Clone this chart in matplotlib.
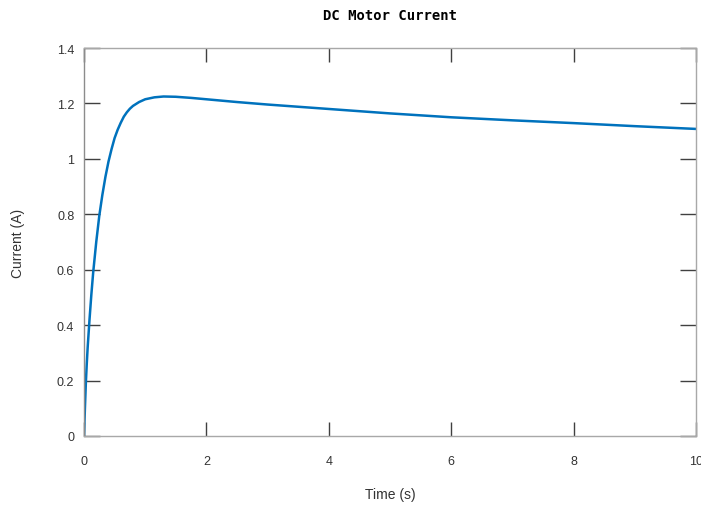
import matplotlib
matplotlib.use("Agg")
import matplotlib.pyplot as plt

# Data
time_s = [0, 0.015, 0.03, 0.045, 0.06, 0.09, 0.12, 0.15, 0.2, 0.25, 0.3, 0.35, 0.4, 0.45, 0.5,
          0.55, 0.6, 0.65, 0.7, 0.75, 0.8, 0.9, 1.0, 1.15, 1.3, 1.5, 1.75, 2.0, 2.5, 3.0,
          3.5, 4.0, 5.0, 6.0, 7.0, 8.0, 9.0, 10.0]
current_a = [0, 0.10, 0.19, 0.26, 0.32, 0.42, 0.51, 0.59, 0.70, 0.795, 0.87, 0.935, 0.99,
             1.035, 1.075, 1.105, 1.13, 1.152, 1.168, 1.181, 1.191, 1.205, 1.215, 1.222,
             1.225, 1.224, 1.220, 1.215, 1.205, 1.196, 1.188, 1.180, 1.164, 1.150, 1.139,
             1.129, 1.118, 1.108]
x_ticks = [0, 2, 4, 6, 8, 10]
y_ticks = [0, 0.2, 0.4, 0.6, 0.8, 1.0, 1.2, 1.4]
y_tick_labels = ["0", "0.2", "0.4", "0.6", "0.8", "1", "1.2", "1.4"]

W, H = 701, 506
fig = plt.figure(figsize=(W / 100, H / 100), dpi=100)
L, R, T, B = 84, 696, 49, 437
ax = fig.add_axes([L / W, 1 - B / H, (R - L) / W, (B - T) / H])

ax.plot(time_s, current_a, color="#0072BD", lw=1.8, solid_joinstyle="round",
        solid_capstyle="round")
ax.set_xlim(0, 10)
ax.set_ylim(0, 1.4)
ax.set_xticks(x_ticks)
ax.set_xticklabels([str(v) for v in x_ticks])
ax.set_yticks(y_ticks)
ax.set_yticklabels(y_tick_labels)

for s in ax.spines.values():
    s.set_color("#a8a8a8")
    s.set_linewidth(1.0)
ax.spines["left"].set_color("#8c8c8c")

ax.tick_params(axis="both", direction="in", top=True, right=True,
               color="#404040", width=1.0, labelcolor="#333333",
               labelsize=9, labelfontfamily="Liberation Sans")
ax.tick_params(axis="x", length=10, pad=14)
ax.tick_params(axis="y", length=11.5, pad=7)

ax.set_xlabel("Time (s)", fontsize=10, family="Liberation Sans", color="#333333", va="center")
ax.xaxis.set_label_coords(0.5, (B - 495) / (B - T))
ax.set_ylabel("Current (A)", fontsize=10, family="Liberation Sans", color="#333333", va="center")
ax.yaxis.set_label_coords((18 - L) / (R - L), 0.5)

ax.set_title("DC Motor Current", fontsize=10, family="DejaVu Sans Mono", fontweight="bold",
             y=(B - 16) / (B - T), va="center", pad=0, color="#000000")

fig.savefig("out.png", dpi=100)
